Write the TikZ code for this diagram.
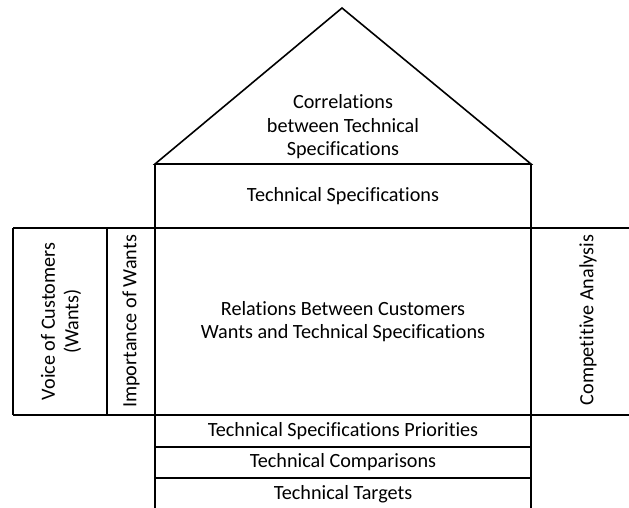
\documentclass[tikz,border=0pt]{standalone}
\usepackage{fontspec}
\setmainfont[Ligatures=NoCommon]{Carlito}
\usepackage{tikz}

\begin{document}
\begin{tikzpicture}[x=1pt,y=-1pt,font=\fontsize{20.2}{23.5}\selectfont]
\useasboundingbox (0,0) rectangle (629,508);
% roof
\draw[ultra thick] (155,164) -- (342,8) -- (531,164) -- cycle;
\foreach \x in {155,531} {
\draw[ultra thick] (\x,164) -- (\x,508);
}
\foreach \y in {228,415} {
\draw[ultra thick] (13,\y) -- (629,\y);
}
\foreach \x in {13,107} {
\draw[ultra thick] (\x,228) -- (\x,415);
}
\foreach \y in {447,478} {
\draw[ultra thick] (155,\y) -- (531,\y);
}
\node[align=center] (roof) at (343,127) {Correlations\\between Technical\\Specifications};
\node (specs) at (343,196) {Technical Specifications};
\node[rotate=90,align=center] (voice) at (61,321.5) {Voice of Customers\\(Wants)};
\node[rotate=90] (importance) at (131,321.5) {Importance of Wants};
\node[align=center] (relations) at (343,321.5) {Relations Between Customers\\Wants and Technical Specifications};
\node[rotate=90] (competitive) at (588,320) {Competitive Analysis};
\node (priorities) at (343,431) {Technical Specifications Priorities};
\node (comparisons) at (343,462.5) {Technical Comparisons};
\node (targets) at (343,494) {Technical Targets};
\end{tikzpicture}
\end{document}
